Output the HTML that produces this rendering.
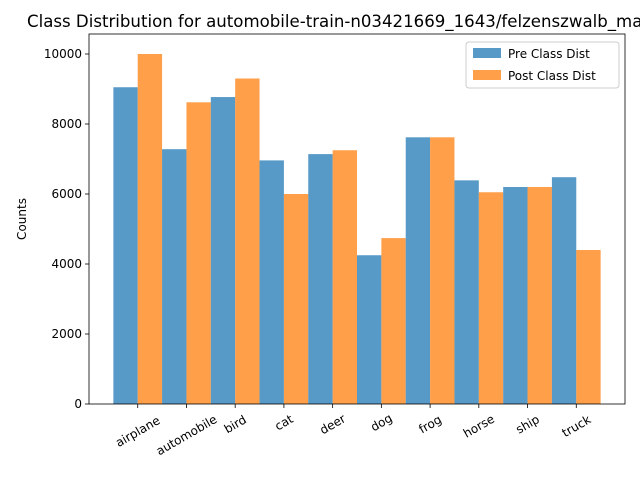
<!DOCTYPE html>
<html><head><meta charset="utf-8"><style>body{margin:0;background:#fff;overflow:hidden}svg text{font-family:"DejaVu Sans","Liberation Sans",sans-serif}</style></head>
<body>
<svg id="c" width="640" height="480" xmlns="http://www.w3.org/2000/svg"></svg>
<script>
const categories=["airplane","automobile","bird","cat","deer","dog","frog","horse","ship","truck"];
const preValues=[9050,7280,8770,6960,7140,4250,7620,6390,6200,6480];
const postValues=[10000,8620,9300,6000,7250,4740,7620,6050,6200,4400];
const yTicks=[0,2000,4000,6000,8000,10000];
const L=89,R=625,T=34,B=404;
const ns="http://www.w3.org/2000/svg";
const svg=document.getElementById('c');
const x=i=>L+(i+1)*(R-L)/11;
const y=v=>B-v*(B-54)/10000;
function el(t,a,txt){const e=document.createElementNS(ns,t);for(const k in a)e.setAttribute(k,a[k]);if(txt!==undefined)e.textContent=txt;svg.appendChild(e);return e;}
const bw=(R-L)/11*0.5;
categories.forEach((c,i)=>{
 const b1=el('rect',{x:x(i)-bw,y:y(preValues[i]),width:bw,height:B-y(preValues[i]),fill:'#1f77b4','fill-opacity':0.75});
 
 
 const b2=el('rect',{x:x(i),y:y(postValues[i]),width:bw,height:B-y(postValues[i]),fill:'#ff7f0e','fill-opacity':0.75});
 
 
 el('line',{x1:x(i),x2:x(i),y1:B,y2:B+4,stroke:'#000','stroke-width':0.8});
 const w=c.length*7.2;
 const t=el('text',{x:0,y:0,dy:'0.35em','font-size':12,'text-anchor':'middle',transform:`translate(${x(i)},${B+8+w*0.25+5}) rotate(-30)`},c);
 
 
});
yTicks.forEach(v=>{
 el('line',{x1:L-4,x2:L,y1:y(v),y2:y(v),stroke:'#000','stroke-width':0.8});
 const t=el('text',{x:L-7,y:y(v)+4,'font-size':12,'text-anchor':'end'},v);
 
 
});
el('rect',{x:L,y:T,width:R-L,height:B-T,fill:'none',stroke:'#000','stroke-width':0.8});
const yt=el('text',{x:0,y:0,'font-size':12,'text-anchor':'middle',transform:`translate(26,${(T+B)/2}) rotate(-90)`},'Counts');


const tt=el('text',{x:27,y:27,'font-size':16.6},'Class Distribution for automobile-train-n03421669_1643/felzenszwalb_mask');


const lg=el('rect',{x:466,y:42,width:153,height:46,fill:'#fff',stroke:'#ccc',rx:3});


el('rect',{x:473,y:48,width:28,height:10,fill:'#1f77b4','fill-opacity':0.75});
el('text',{x:508,y:58,'font-size':12},'Pre Class Dist');
el('rect',{x:473,y:70,width:28,height:10,fill:'#ff7f0e','fill-opacity':0.75});
el('text',{x:508,y:80,'font-size':12},'Post Class Dist');
</script>
</body></html>
